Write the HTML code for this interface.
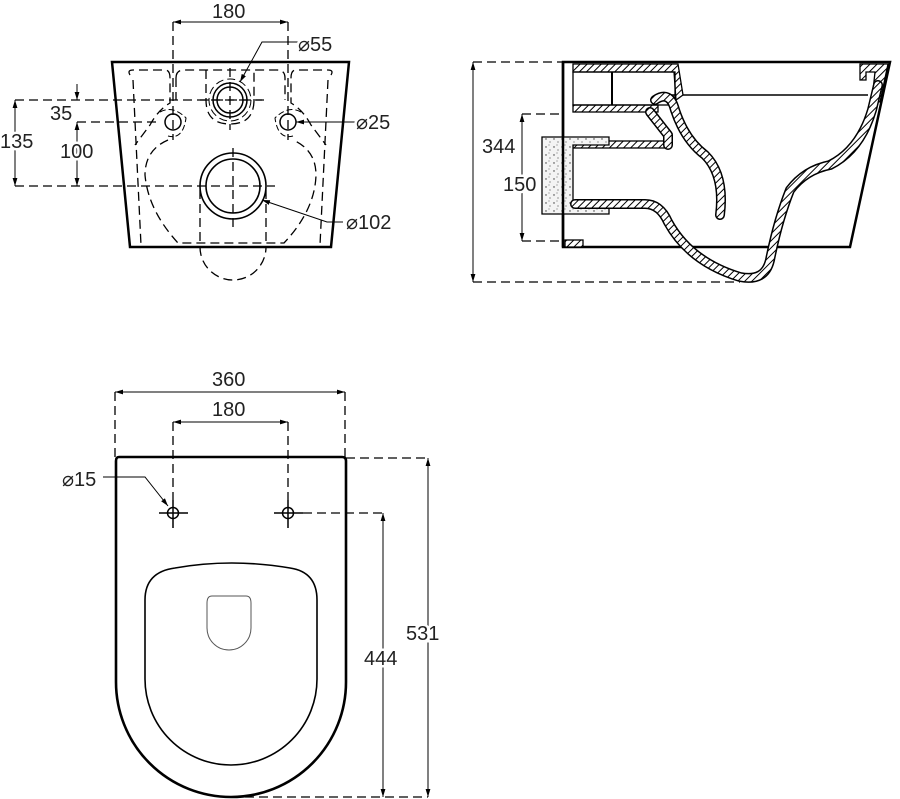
<!DOCTYPE html>
<html><head><style>
html,body{margin:0;padding:0;background:#fff;}
svg{display:block}
text{font-family:"Liberation Sans",sans-serif;font-size:20px;fill:#222;stroke:#fff;stroke-width:5px;paint-order:stroke;}
</style></head><body>
<svg width="900" height="799" viewBox="0 0 900 799" xmlns="http://www.w3.org/2000/svg">
<defs>
<pattern id="h" width="5" height="5" patternUnits="userSpaceOnUse" patternTransform="rotate(45)">
<rect width="5" height="5" fill="#fff"/><line x1="0" y1="0" x2="0" y2="5" stroke="#000" stroke-width="2"/>
</pattern>
<pattern id="dots" width="8" height="8" patternUnits="userSpaceOnUse">
<rect width="8" height="8" fill="#f4f4f4"/><circle cx="2" cy="3" r="0.7" fill="#333"/><circle cx="6" cy="6" r="0.6" fill="#555"/><circle cx="5" cy="1" r="0.5" fill="#444"/>
</pattern>
<marker id="a" viewBox="0 0 10 10" refX="10" refY="5" markerWidth="8" markerHeight="8" orient="auto-start-reverse"><path d="M0,2 L10,5 L0,8 z" fill="#000"/></marker>
</defs>

<g fill="none" stroke="#000">
<!-- FRONT VIEW -->
<path d="M112,62 L349,62 L331,247 L130,247 Z" stroke-width="2.5"/>
<g stroke-dasharray="9,5" stroke-width="1.3">
<path d="M173,22 V140 M288,22 V140"/>
<path d="M15,100 H265 M77,122 H160 M15,186 H275"/>
<path d="M130,75 Q127,70 133,70 H165 Q170,70 170,78 V103 Q158,110 150,125 L135,145"/>
<path d="M331,75 Q334,70 328,70 H296 Q291,70 291,78 V103 Q303,110 311,125 L326,145"/>
<path d="M176,78 Q176,70 184,70 H277 Q285,70 285,78 V100"/>
<path d="M176,78 V100"/>
<path d="M133,80 L141,245 M328,80 L320,245"/>
<path d="M168,140 Q145,150 145,175 Q148,210 178,243 H284 Q315,210 316,175 Q316,150 293,140"/>
<path d="M206,70 V100 Q206,124 230,124 Q254,124 254,100 V70"/>
<path d="M200,190 V247 M266,190 V247"/>
<path d="M200,247 A33,33 0 0 0 266,247"/>
<path d="M230,68 V130 M200,100 H264 M233,148 V232"/>
</g>
<circle cx="230" cy="100" r="17" stroke-width="1.5"/>
<circle cx="230" cy="100" r="13" stroke-width="1.5"/>
<circle cx="230" cy="100" r="21" stroke-width="1" stroke-dasharray="8,4"/>
<circle cx="173" cy="122" r="8" stroke-width="1.5"/>
<circle cx="288" cy="122" r="8" stroke-width="1.5"/>
<path d="M160,112 Q173,105 186,118 Q183,140 168,136" stroke-width="1" stroke-dasharray="6,3"/>
<path d="M301,112 Q288,105 275,118 Q278,140 293,136" stroke-width="1" stroke-dasharray="6,3"/>
<circle cx="233" cy="186" r="33" stroke-width="1.6"/>
<circle cx="233" cy="186" r="27" stroke-width="1.6"/>
<!-- dims -->
<line x1="173" y1="22" x2="288" y2="22" stroke-width="1" marker-start="url(#a)" marker-end="url(#a)"/>
<line x1="15" y1="100" x2="15" y2="186" stroke-width="1" marker-start="url(#a)" marker-end="url(#a)"/>
<line x1="77" y1="84" x2="77" y2="100" stroke-width="1" marker-end="url(#a)"/>
<line x1="77" y1="122" x2="77" y2="186" stroke-width="1" marker-start="url(#a)" marker-end="url(#a)"/>
<path d="M298,42 H262 L240,82" stroke-width="1" marker-end="url(#a)"/>
<path d="M355,122 H296" stroke-width="1" marker-end="url(#a)"/>
<path d="M343,222 H327 L262,200" stroke-width="1" marker-end="url(#a)"/>

<!-- SIDE VIEW -->
<path d="M563,62 H890 L850,247 H563 Z" stroke-width="2.5"/>
<line x1="665" y1="95" x2="868" y2="95" stroke-width="1.5"/>
<g stroke-dasharray="9,5" stroke-width="1.3">
<path d="M473,62 H563 M473,282 H740 M522,114 H563 M522,241 H563"/>
</g>
<line x1="473" y1="62" x2="473" y2="282" stroke-width="1" marker-start="url(#a)" marker-end="url(#a)"/>
<line x1="522" y1="114" x2="522" y2="241" stroke-width="1" marker-start="url(#a)" marker-end="url(#a)"/>
<g fill="url(#h)" stroke-width="1.3">
<path d="M573,64 H678 L683,95 L676,100 L674,72 H573 Z"/>
<rect x="573" y="105" width="85" height="7"/>
<rect x="573" y="141" width="92" height="7"/>
<rect x="565" y="240" width="18" height="7"/>
<path d="M860,64 H888 L880,102 L872,100 L875,72 H866 V80 H860 Z"/>
</g>
<rect x="573" y="72" width="102" height="33" stroke-width="1.3"/>
<line x1="612" y1="72" x2="612" y2="105" stroke-width="2"/>
<path d="M542,137 H609 V145 H573 V206 H609 V214 H542 Z" fill="url(#dots)" stroke-width="1.3"/>
<g stroke-linecap="round" stroke-linejoin="round">
<g stroke="#000" stroke-width="10">
<path id="c1" d="M655,100 Q670,90 675,110 Q685,140 705,155 Q725,175 720,215"/>
<path id="c2" d="M575,204 H645 Q660,204 668,222 Q690,262 740,277 Q765,282 770,260 Q778,220 790,190 Q805,170 830,165 Q860,150 872,110 L878,85"/>
<path d="M650,112 L668,135 V145"/>
</g>
<g stroke="url(#h)" stroke-width="7">
<use href="#c1"/><use href="#c2"/>
<path d="M650,112 L668,135 V145"/>
</g>
</g>
<line x1="563" y1="62" x2="563" y2="247" stroke-width="2.5"/>

<!-- PLAN VIEW -->
<path d="M119,457 H342 Q346,457 346,461 V682 A115,115 0 0 1 116,682 V461 Q116,457 119,457 Z" stroke-width="2.6"/>
<path d="M175,568 Q231,558 290,568 Q317,572 317,600 V679 A86,86 0 0 1 145,679 V600 Q145,572 175,568 Z" stroke-width="1.6"/>
<path d="M212,596 H246 Q251,596 251,603 V628 A22,22 0 0 1 207,628 V603 Q207,596 212,596 Z" stroke-width="1" stroke="#555"/>
<circle cx="173" cy="513" r="5.5" stroke-width="1.5"/>
<circle cx="288" cy="513" r="5.5" stroke-width="1.5"/>
<path d="M159,513 H188 M173,500 V528 M274,513 H303 M288,500 V528" stroke-width="1.5"/>
<g stroke-dasharray="9,5" stroke-width="1.3">
<path d="M115,392 V457 M345,392 V457 M173,422 V500 M288,422 V500"/>
<path d="M346,458 H428 M231,797 H428 M303,513 H383"/>
</g>
<line x1="115" y1="392" x2="345" y2="392" stroke-width="1" marker-start="url(#a)" marker-end="url(#a)"/>
<line x1="173" y1="422" x2="288" y2="422" stroke-width="1" marker-start="url(#a)" marker-end="url(#a)"/>
<line x1="428" y1="458" x2="428" y2="797" stroke-width="1" marker-start="url(#a)" marker-end="url(#a)"/>
<line x1="383" y1="513" x2="383" y2="797" stroke-width="1" marker-start="url(#a)" marker-end="url(#a)"/>
<path d="M103,477 H145 L168,506" stroke-width="1" marker-end="url(#a)"/>
</g>

<text x="212" y="18">180</text>
<text x="298" y="51">⌀55</text>
<text x="356" y="129">⌀25</text>
<text x="346" y="229">⌀102</text>
<text x="0" y="148">135</text>
<text x="50" y="120">35</text>
<text x="60" y="158">100</text>
<text x="482" y="153">344</text>
<text x="503" y="191">150</text>
<text x="212" y="386">360</text>
<text x="212" y="416">180</text>
<text x="62" y="486">⌀15</text>
<text x="406" y="640">531</text>
<text x="364" y="665">444</text>
</svg>
</body></html>
